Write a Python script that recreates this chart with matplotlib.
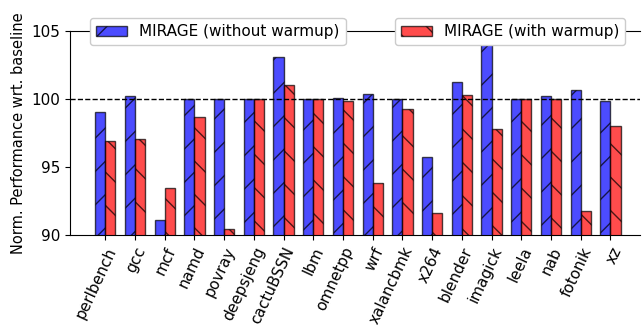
import numpy as np
import matplotlib
matplotlib.use("Agg")
import matplotlib.pyplot as plt

benchmarks = ["perlbench", "gcc", "mcf", "namd", "povray", "deepsjeng", "cactuBSSN",
              "lbm", "omnetpp", "wrf", "xalancbmk", "x264", "blender", "imagick",
              "leela", "nab", "fotonik", "xz"]
no_warmup = [99.05, 100.25, 91.1, 100.0, 100.0, 100.0, 103.1, 100.0, 100.05, 100.37,
             100.0, 95.75, 101.27, 106.0, 100.0, 100.25, 100.66, 99.88]
with_warmup = [96.88, 97.05, 93.45, 98.67, 90.42, 100.0, 101.05, 100.0, 99.85, 93.8,
               99.26, 91.64, 100.3, 97.83, 100.0, 100.0, 91.75, 97.98]

plt.rcParams['font.size'] = 11

x = np.arange(len(benchmarks))
w = 0.34

fig, ax = plt.subplots(figsize=(6.44, 3.28), dpi=100)
fig.subplots_adjust(left=0.109, right=0.994, bottom=0.284, top=0.905)

b1 = ax.bar(x - w/2, no_warmup, w, color='blue', alpha=0.7, edgecolor='black',
            hatch='/', label='MIRAGE (without warmup)')
b2 = ax.bar(x + w/2, with_warmup, w, color='red', alpha=0.7, edgecolor='black',
            hatch='\\', label='MIRAGE (with warmup)')
ax.axhline(100, color='black', linestyle='--', linewidth=1)

ax.set_ylim(90, 105)
ax.set_yticks([90, 95, 100, 105])
ax.set_xlim(-1.18, 18.0)
ax.set_xticks(x)
ax.set_xticklabels(benchmarks, rotation=65, ha='right', rotation_mode='anchor')
ax.set_ylabel('Norm. Performance wrt. baseline', fontsize=10.5)
ax.spines['right'].set_visible(False)

# two separate boxes, opaque so the top line and imagick bar hide behind them
leg1 = ax.legend(handles=[b1], loc='upper left', bbox_to_anchor=(0.035, 1.064),
                 borderaxespad=0, framealpha=1)
ax.add_artist(leg1)
ax.legend(handles=[b2], loc='upper left', bbox_to_anchor=(0.570, 1.064),
          borderaxespad=0, framealpha=1)

plt.savefig('out.png', dpi=100)
